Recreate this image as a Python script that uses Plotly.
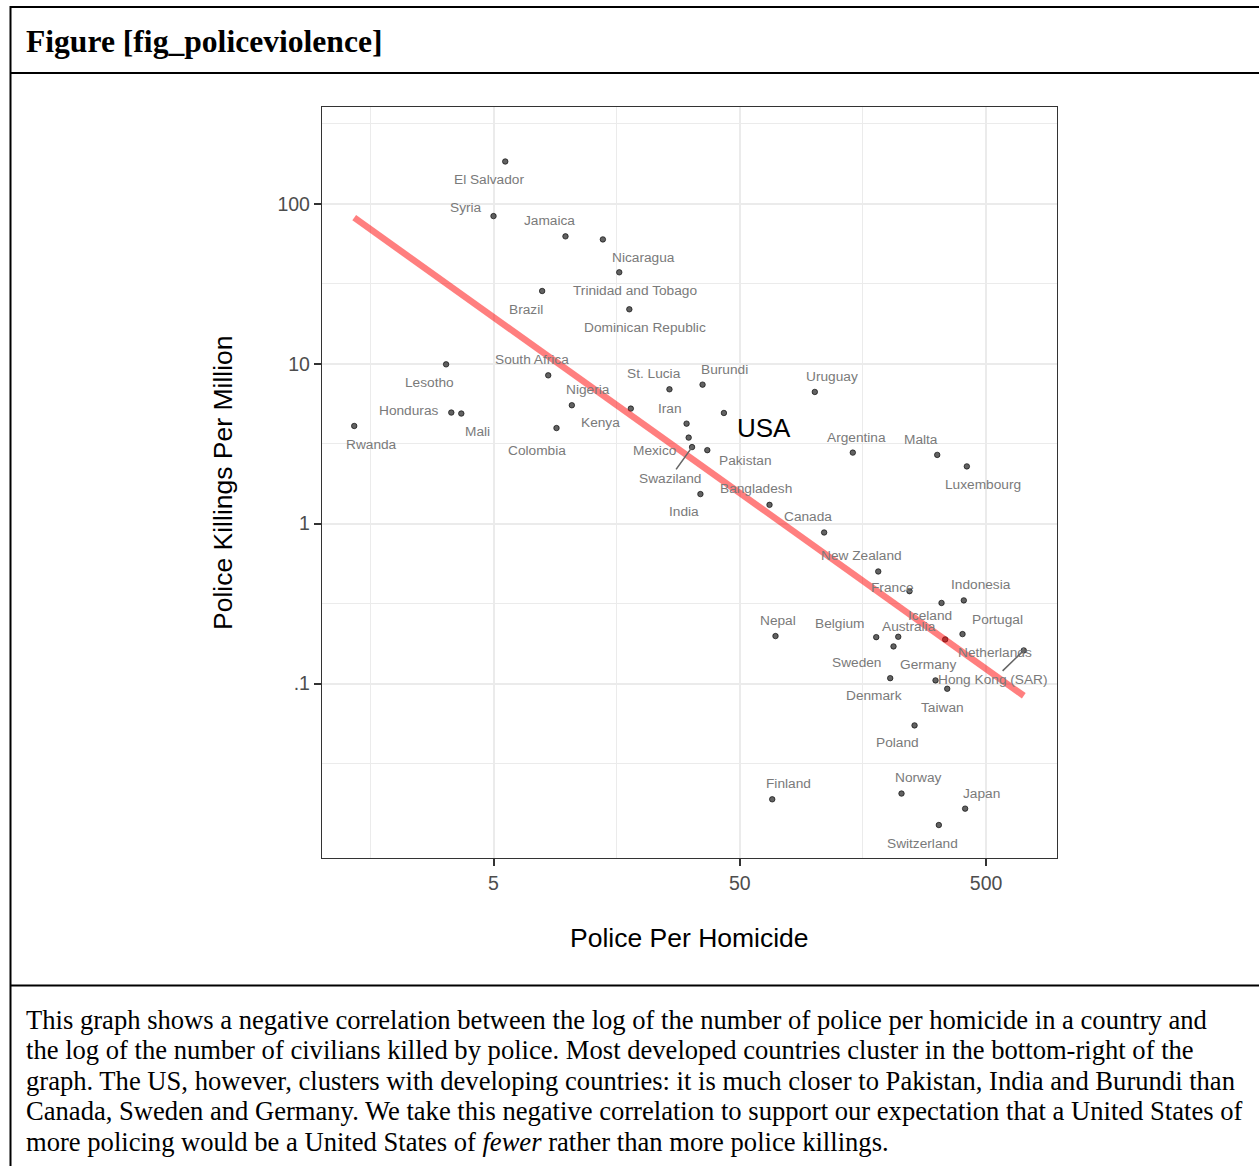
import numpy as np
import plotly.graph_objects as go

# ---------------- data ----------------
countries = [
    "El Salvador", "Syria", "Jamaica", "Nicaragua", "Trinidad and Tobago", "Brazil",
    "Dominican Republic", "Lesotho", "Honduras", "Mali", "Rwanda", "South Africa",
    "Nigeria", "Colombia", "Kenya", "St. Lucia", "Burundi", "Iran", "USA", "Mexico",
    "Swaziland", "Pakistan", "India", "Bangladesh", "Canada", "Uruguay", "Argentina",
    "Malta", "Luxembourg", "New Zealand", "France", "Iceland", "Indonesia", "Nepal",
    "Belgium", "Australia", "Sweden", "Netherlands", "Portugal", "Hong Kong (SAR)",
    "Denmark", "Germany", "Taiwan", "Poland", "Finland", "Norway", "Japan", "Switzerland",
]
police_per_homicide = [
    5.58, 5.0, 9.80, 13.9, 16.2, 7.88,
    17.8, 3.21, 3.37, 3.70, 1.36, 8.34,
    10.4, 9.01, 18.05, 25.9, 35.3, 30.4, 43.1, 31.0,
    32.0, 36.9, 34.6, 66.0, 110.0, 100.8, 143.8,
    316.6, 417.6, 182.4, 244.3, 329.6, 405.9, 69.8,
    179.0, 219.9, 210.4, 341.0, 401.0, 711.0,
    204.0, 311.6, 347.6, 256.1, 67.7, 226.7, 411.0, 321.4,
]
killings_per_million = [
    184.0, 83.8, 62.6, 59.9, 37.3, 28.5,
    21.9, 9.91, 4.95, 4.88, 4.08, 8.46,
    5.50, 3.96, 5.24, 6.92, 7.40, 4.22, 4.92, 3.45,
    3.01, 2.88, 1.53, 1.31, 0.88, 6.66, 2.78,
    2.69, 2.28, 0.502, 0.378, 0.319, 0.331, 0.198,
    0.195, 0.196, 0.1706, 0.1887, 0.2037, 0.161,
    0.108, 0.1046, 0.0927, 0.0547, 0.01887, 0.0205, 0.0165, 0.01303,
]
x_tick_vals = [5, 50, 500]
x_tick_text = ["5", "50", "500"]
y_tick_vals = [0.1, 1, 10, 100]
y_tick_text = [".1", "1", "10", "100"]

caption_lines = [
    "This graph shows a negative correlation between the log of the number of police per homicide in a country and",
    "the log of the number of civilians killed by police. Most developed countries cluster in the bottom-right of the",
    "graph. The US, however, clusters with developing countries: it is much closer to Pakistan, India and Burundi than",
    "Canada, Sweden and Germany. We take this negative correlation to support our expectation that a United States of",
    "more policing would be a United States of <i>fewer</i> rather than more police killings.",
]

# ---------------- label placement (pixel offsets from each point, like ggrepel) ----------------
label_offsets = {
    "El Salvador": (-16.5, 18), "Syria": (-27.3, -8.4), "Jamaica": (-16, -16),
    "Nicaragua": (41.1, 17.7), "Trinidad and Tobago": (16, 17.7), "Brazil": (-16, 18.3),
    "Dominican Republic": (15.8, 18), "Lesotho": (-16.9, 18), "Honduras": (-42.2, -2),
    "Mali": (16, 17.7), "Rwanda": (17.2, 18.3), "South Africa": (-16.4, -15.7),
    "Nigeria": (16, -15.7), "Colombia": (-19.5, 22.6), "Kenya": (-30.6, 13.7),
    "St. Lucia": (-15, -15.7), "Burundi": (21.6, -15.3), "Iran": (-16.7, -15.3),
    "USA": (40, 14.6), "Mexico": (-33.3, 12.4), "Swaziland": (-22.4, 31.3),
    "Pakistan": (38.3, 10), "India": (-16.2, 17.6), "Bangladesh": (-13.3, -16.4),
    "Canada": (-16, -15.6), "Uruguay": (16.7, -15), "Argentina": (3.2, -15.3),
    "Malta": (-16.2, -15.4), "Luxembourg": (16.4, 18.3), "New Zealand": (-16.4, -15.6),
    "France": (-17.3, -3.7), "Indonesia": (16.7, -16.3), "Iceland": (-11.3, 12.6),
    "Portugal": (34.5, -14.7), "Nepal": (2.7, -15.7), "Belgium": (-36.7, -13.7),
    "Australia": (11.1, -10.7), "Netherlands": (49.8, 12.7), "Sweden": (-36.8, 16.4),
    "Germany": (-7.3, -16.3), "Hong Kong (SAR)": (-30.5, 29.4), "Denmark": (-16.5, 17.7),
    "Taiwan": (-5.2, 18.3), "Poland": (-16.8, 17.4), "Finland": (16, -15.6),
    "Norway": (17.3, -15.7), "Japan": (16.1, -15.4), "Switzerland": (-16.6, 18),
}
segment_labels = {"Swaziland", "Hong Kong (SAR)"}

SANS = "Liberation Sans, Arial, sans-serif"
SERIF = "Liberation Serif, Times New Roman, serif"

W, H = 1259, 1166
ML, MR, MT, MB = 322, 202, 107, 308
PW, PH = W - ML - MR, H - MT - MB


def px_x(px):
    return (px - ML) / PW


def px_y(py):
    return (H - MB - py) / PH


# ---------------- figure ----------------
fig = go.Figure()

fig.add_trace(go.Scatter(
    x=police_per_homicide, y=killings_per_million, mode="markers",
    marker=dict(size=5.5, color="rgba(45,45,45,0.75)",
                line=dict(width=0.8, color="rgba(0,0,0,0.8)")),
    hoverinfo="skip", showlegend=False,
))

# linear fit in log-log space
lx = np.log10(np.array(police_per_homicide))
ly = np.log10(np.array(killings_per_million))
slope, intercept = np.polyfit(lx, ly, 1)
fit_lx = np.array([lx.min(), lx.max()])
fig.add_trace(go.Scatter(
    x=10 ** fit_lx, y=10 ** (intercept + slope * fit_lx), mode="lines",
    line=dict(color="rgba(255,0,0,0.5)", width=6.5),
    hoverinfo="skip", showlegend=False,
))

annotations = []
for name, xv, yv in zip(countries, police_per_homicide, killings_per_million):
    dx, dy = label_offsets[name]
    is_usa = name == "USA"
    font = dict(family=SANS, size=26 if is_usa else 13.7,
                color="#000000" if is_usa else "#7a7a7a")
    if name in segment_labels:
        annotations.append(dict(
            x=np.log10(xv), y=np.log10(yv), xref="x", yref="y", text=name,
            showarrow=True, ax=dx, ay=dy, arrowhead=0, arrowwidth=1.6,
            arrowcolor="#666666", standoff=0, font=font,
        ))
    else:
        annotations.append(dict(
            x=np.log10(xv), y=np.log10(yv), xref="x", yref="y", text=name,
            showarrow=False, xshift=dx, yshift=-dy, xanchor="center",
            yanchor="middle", font=font,
        ))

# axis titles
annotations.append(dict(x=0.5, y=px_y(938), xref="paper", yref="paper",
                        text="Police Per Homicide", showarrow=False,
                        xanchor="center", yanchor="middle",
                        font=dict(family=SANS, size=26.5, color="#000000")))
annotations.append(dict(x=px_x(223), y=px_y(483), xref="paper", yref="paper",
                        text="Police Killings Per Million", showarrow=False,
                        textangle=-90, xanchor="center", yanchor="middle",
                        font=dict(family=SANS, size=26.5, color="#000000")))

# figure header and caption
annotations.append(dict(x=px_x(24), y=px_y(41.5), xref="paper", yref="paper",
                        text="<b>Figure [fig_policeviolence]</b>", showarrow=False,
                        xanchor="left", yanchor="middle",
                        font=dict(family=SERIF, size=31.6, color="#000000")))
for i, line in enumerate(caption_lines):
    annotations.append(dict(x=px_x(24), y=px_y(1019.5 + i * 30.6), xref="paper", yref="paper",
                            text=line, showarrow=False, xanchor="left", yanchor="middle",
                            font=dict(family=SERIF, size=26.6, color="#000000")))

line_style = dict(color="#000000", width=2)
shapes = [
    dict(type="line", xref="paper", yref="paper", x0=px_x(10.5), x1=px_x(1270),
         y0=px_y(7), y1=px_y(7), line=line_style),
    dict(type="line", xref="paper", yref="paper", x0=px_x(10.5), x1=px_x(1270),
         y0=px_y(73), y1=px_y(73), line=line_style),
    dict(type="line", xref="paper", yref="paper", x0=px_x(10.5), x1=px_x(1270),
         y0=px_y(985.5), y1=px_y(985.5), line=line_style),
    dict(type="line", xref="paper", yref="paper", x0=px_x(10.5), x1=px_x(10.5),
         y0=px_y(6), y1=px_y(1175), line=line_style),
]

axis_common = dict(
    type="log", ticks="outside", ticklen=7, tickwidth=1.5, tickcolor="#333333",
    tickfont=dict(family=SANS, size=19.5, color="#4D4D4D"),
    showgrid=True, gridcolor="#EBEBEB", gridwidth=1.5,
    showline=True, mirror=True, linecolor="#333333", linewidth=1.3,
    zeroline=False,
)

fig.update_layout(
    width=W, height=H, autosize=False,
    margin=dict(l=ML, r=MR, t=MT, b=MB, pad=0),
    paper_bgcolor="white", plot_bgcolor="white",
    showlegend=False,
    xaxis=dict(axis_common, range=[0.0027, 2.9868],
               tickmode="array", tickvals=x_tick_vals, ticktext=x_tick_text,
               minor=dict(tickmode="array", tickvals=[5 / np.sqrt(10), 50 / np.sqrt(10), 500 / np.sqrt(10)],
                          showgrid=True, gridcolor="#EBEBEB", gridwidth=0.8, ticks="")),
    yaxis=dict(axis_common, range=[-2.0913, 2.6056],
               tickmode="array", tickvals=y_tick_vals, ticktext=y_tick_text,
               minor=dict(tickmode="array",
                          tickvals=[10 ** -1.5, 10 ** -0.5, 10 ** 0.5, 10 ** 1.5, 10 ** 2.5],
                          showgrid=True, gridcolor="#EBEBEB", gridwidth=0.8, ticks="")),
    annotations=annotations,
    shapes=shapes,
)

fig.write_html("out.html")
